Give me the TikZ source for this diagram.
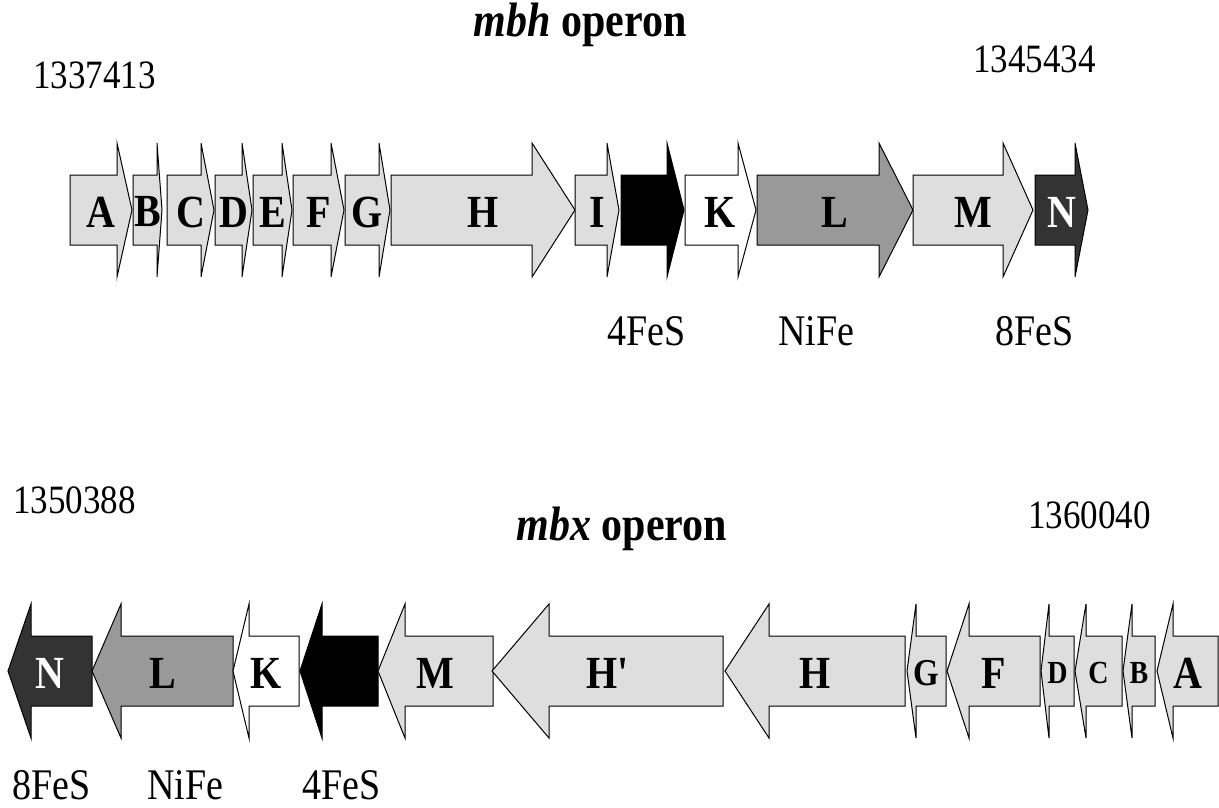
\documentclass[tikz,border=0pt]{standalone}
\usepackage{fontspec}
\setmainfont{Liberation Serif}
\newfontfamily\plainserif{Liberation Serif}
\usepackage{tikz}
\usetikzlibrary{positioning}
\tikzset{
  gene/.style={draw=black,line width=1pt,line join=miter},
  light/.style={fill=black!13},
  mid/.style={fill=black!40},
  dark/.style={fill=black!80},
  solid/.style={fill=black},
  blank/.style={fill=white},
  tall/.style={yscale=1.15,transform shape},
  genelbl/.style={tall,inner sep=0pt,font=\fontsize{40}{40}\selectfont\bfseries},
  coord/.style={tall,inner sep=0pt,anchor=base west,font=\fontsize{35}{35}\selectfont},
  clus/.style={tall,inner sep=0pt,anchor=base west,font=\fontsize{38}{38}\selectfont},
  title/.style={tall,inner sep=0pt,anchor=base,font=\fontsize{42}{42}\selectfont\bfseries},
}
% #1 name, #2 start, #3 head base, #4 tip, #5 centre y, #6 fill, #7 label
\newcommand{\gene}[7]{%
  \draw[gene,#6] (#2,#5-35) -- (#3,#5-35) -- (#3,#5-67) -- (#4,#5)
    -- (#3,#5+67) -- (#3,#5+35) -- (#2,#5+35) -- cycle;
  \node[genelbl] (#1) at ({(#2+#4)/2},#5+2) {#7};}

\begin{document}
\begin{tikzpicture}[x=1pt,y=-1pt]
  \useasboundingbox (0,0) rectangle (1219,807);
  % mbh operon
  \node[title] (mbhtitle) at (580,36) {\textit{mbh} operon};
  \node[coord] (mbhstart) at (33,88) {1337413};
  \node[coord] (mbhend) at (973,72) {1345434};
  \gene{mbhA}{70}{117}{132}{210}{light}{A}
  \gene{mbhB}{133}{157}{162}{210}{light}{B}
  \gene{mbhC}{167}{201}{214}{210}{light}{C}
  \gene{mbhD}{215}{242}{252}{210}{light}{D}
  \gene{mbhE}{253}{282}{292}{210}{light}{E}
  \gene{mbhF}{293}{331}{344}{210}{light}{F}
  \gene{mbhG}{345}{379}{390}{210}{light}{G}
  \gene{mbhH}{391}{532}{575}{210}{light}{H}
  \gene{mbhI}{575}{607}{619}{210}{light}{I}
  \gene{mbhJ}{621}{667}{684}{210}{solid}{}
  \gene{mbhK}{685}{738}{756}{210}{blank}{K}
  \gene{mbhL}{757}{879}{913}{210}{mid}{L}
  \gene{mbhM}{913}{1003}{1033}{210}{light}{M}
  \gene{mbhN}{1035}{1075}{1088}{210}{dark}{\color{white}N}
  \node[clus] (mbhfes4) at (607,345) {4FeS};
  \node[clus] (mbhnife) at (778,345) {NiFe};
  \node[clus] (mbhfes8) at (995,345) {8FeS};

  % mbx operon
  \node[title] (mbxtitle) at (622,540) {\textit{mbx} operon};
  \node[coord] (mbxstart) at (13,513) {1350388};
  \node[coord] (mbxend) at (1028,528) {1360040};
  \gene{mbxN}{92}{31}{8}{671}{dark}{\color{white}N}
  \gene{mbxL}{233}{121}{92}{671}{mid}{L}
  \gene{mbxK}{299}{249}{233}{671}{blank}{K}
  \gene{mbxJ}{378}{322}{300}{671}{solid}{}
  \gene{mbxM}{493}{405}{378}{671}{light}{M}
  \gene{mbxHp}{723}{549}{492}{671}{light}{\plainserif\bfseries H'}
  \gene{mbxH}{905}{769}{725}{671}{light}{H}
  \gene{mbxG}{946}{916}{907}{671}{light}{\fontsize{33}{33}\selectfont G}
  \gene{mbxF}{1040}{969}{947}{671}{light}{F}
  \gene{mbxD}{1074}{1049}{1041}{671}{light}{\fontsize{28}{28}\selectfont D}
  \gene{mbxC}{1122}{1086}{1075}{671}{light}{\fontsize{28}{28}\selectfont C}
  \gene{mbxB}{1155}{1132}{1123}{671}{light}{\fontsize{28}{28}\selectfont B}
  \gene{mbxA}{1218}{1173}{1157}{671}{light}{A}
  \node[clus] (mbxfes8) at (12,799) {8FeS};
  \node[clus] (mbxnife) at (147,799) {NiFe};
  \node[clus] (mbxfes4) at (302,799) {4FeS};
\end{tikzpicture}
\end{document}
